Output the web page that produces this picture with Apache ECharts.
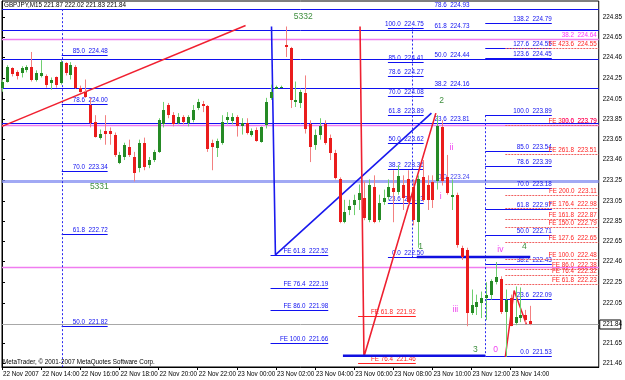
<!DOCTYPE html>
<html><head><meta charset="utf-8">
<script src="https://cdn.jsdelivr.net/npm/echarts@6/dist/echarts.min.js"></script>
<style>html,body{margin:0;padding:0;background:#fff}#c{width:625px;height:380px}</style>
</head><body><div id="c"></div>
<script>
// ---------------- DATA ----------------
const xTickLabels = ['22 Nov 2007','22 Nov 14:00','22 Nov 16:00','22 Nov 18:00','22 Nov 20:00','22 Nov 22:00','23 Nov 00:00','23 Nov 02:00','23 Nov 04:00','23 Nov 06:00','23 Nov 08:00','23 Nov 10:00','23 Nov 12:00','23 Nov 14:00'];
const xTickBars = [0,8,16,24,32,40,48,56,64,72,80,88,96,104];
const yTickLabels = [224.85,224.65,224.46,224.25,224.05,223.85,223.65,223.46,223.25,223.05,222.85,222.65,222.46,222.25,222.05,221.65,221.46];
const lastPrice = 221.84;
const titleText = 'GBPJPY,M15 221.87 222.02 221.83 221.84';
const copyrightText = 'MetaTrader, \u00a9 2001-2007 MetaQuotes Software Corp.';

// [open, close, low, high] per 15-min bar from 22 Nov 12:00
const candles = [
[224.16,224.22,224.12,224.24],[224.22,224.36,224.21,224.38],[224.35,224.29,224.27,224.36],[224.31,224.27,224.24,224.33],
[224.30,224.35,224.26,224.37],[224.33,224.36,224.31,224.38],[224.36,224.24,224.22,224.51],[224.24,224.30,224.22,224.33],
[224.27,224.30,224.26,224.43],[224.27,224.19,224.16,224.29],[224.21,224.24,224.14,224.26],[224.26,224.19,224.16,224.27],
[224.21,224.41,224.19,224.43],[224.40,224.30,224.28,224.41],[224.28,224.38,224.24,224.41],[224.36,224.16,224.15,224.38],
[224.16,224.12,224.11,224.18],[224.12,224.07,224.06,224.24],[223.99,223.81,223.77,224.06],[223.82,223.68,223.67,223.89],
[223.67,223.71,223.65,223.75],[223.73,223.71,223.60,223.89],[223.73,223.71,223.60,223.77],[223.70,223.50,223.48,223.72],
[223.42,223.50,223.41,223.53],[223.48,223.60,223.45,223.62],[223.58,223.50,223.48,223.65],[223.48,223.32,223.24,223.53],
[223.37,223.62,223.33,223.65],[223.62,223.38,223.35,223.67],[223.40,223.45,223.37,223.48],[223.45,223.53,223.43,223.55],
[223.53,223.84,223.52,223.86],[223.80,223.94,223.77,224.02],[223.99,223.89,223.86,224.01],[223.89,223.80,223.78,223.92],
[223.81,223.87,223.80,223.91],[223.87,223.82,223.80,223.89],[223.81,223.87,223.78,223.89],[223.84,223.94,223.82,223.99],
[223.96,224.02,223.94,224.05],[224.00,223.98,223.92,224.03],[223.98,223.56,223.53,223.99],[223.62,223.58,223.35,223.65],
[223.57,223.64,223.48,223.66],[223.62,223.82,223.60,223.89],[223.84,223.87,223.80,223.92],[223.83,223.87,223.80,223.91],
[223.87,223.78,223.68,223.89],[223.78,223.81,223.70,223.86],[223.81,223.72,223.70,223.86],[223.70,223.73,223.68,223.76],
[223.74,223.64,223.63,223.77],[223.63,223.77,223.62,223.78],[223.79,224.02,223.76,224.06],[224.06,224.12,224.04,224.19],
[224.15,224.17,224.15,224.18],[224.17,224.17,224.16,224.18],[224.58,224.56,224.46,224.76],[224.55,224.04,223.96,224.56],
[224.02,224.04,223.97,224.22],[224.01,224.12,223.96,224.14],[224.11,223.75,223.71,224.28],[223.80,223.58,223.43,223.84],
[223.60,223.70,223.55,223.75],[223.70,223.78,223.65,223.86],[223.80,223.62,223.60,223.84],[223.67,223.52,223.45,223.70],
[223.52,223.27,223.26,223.55],[223.26,222.84,222.83,223.28],[222.84,222.94,222.83,223.06],[222.96,223.00,222.91,223.06],
[223.01,223.06,222.91,223.11],[223.06,223.13,222.96,223.21],[223.08,222.88,222.86,223.24],[222.86,223.21,222.84,223.26],
[223.19,222.84,222.83,223.30],[222.86,223.03,222.84,223.11],[223.04,223.08,223.01,223.16],[223.09,223.19,223.06,223.26],
[223.18,223.14,222.84,223.35],[223.14,223.29,223.11,223.40],[223.21,223.08,222.96,223.30],[223.26,223.04,223.01,223.35],
[223.19,222.86,222.81,223.26],[222.84,223.26,222.59,223.30],[223.28,223.06,223.04,223.45],[223.21,223.06,222.96,223.30],
[223.23,223.06,222.98,223.30],[223.24,223.78,223.16,223.89],[223.77,223.24,223.20,223.84],[223.28,223.13,223.11,223.50],
[223.09,223.11,222.96,223.26],[223.11,222.62,222.59,223.13],[222.59,222.50,222.47,222.61],[222.57,221.95,221.82,222.59],
[221.95,222.03,221.93,222.18],[222.01,222.06,221.93,222.13],[222.05,222.10,221.90,222.16],[222.10,222.13,221.88,222.25],
[222.13,222.26,222.08,222.28],[222.25,222.30,222.23,222.45],[222.28,221.96,221.94,222.31],[221.96,222.08,221.52,222.18],
[222.10,221.82,221.82,222.13],[221.85,221.91,221.83,222.21],[221.90,221.93,221.86,222.20],[221.93,221.88,221.85,221.98],
[221.87,221.84,221.83,222.02]
];

// Fibonacci / expansion levels: [text, price]
const fibLeftLevels = [['85.0  224.48',224.48],['78.6  224.00',224.00],['70.0  223.34',223.34],['61.8  222.72',222.72],['50.0  221.82',221.82]];
const fibMidLevels = [['100.0  224.75',224.75],['85.0  224.41',224.41],['78.6  224.27',224.27],['70.0  224.08',224.08],['61.8  223.89',223.89],['50.0  223.62',223.62],['38.2  223.36',223.36],['23.6  223.03',223.03],['0.0  222.50',222.50]];
const fibRayLevels = [['78.6  224.93',224.93],['61.8  224.73',224.73],['50.0  224.44',224.44],['38.2  224.16',224.16],['23.6  223.81',223.81]];
const fibRayBase = [['0.0  223.24',223.24]];
const fibRightLevels = [['138.2  224.79',224.79],['127.6  224.55',224.55],['123.6  224.45',224.45],['100.0  223.89',223.89],['85.0  223.54',223.54],['78.6  223.39',223.39],['70.0  223.18',223.18],['61.8  222.97',222.97],['50.0  222.71',222.71],['38.2  222.43',222.43],['23.6  222.09',222.09],['0.0  221.53',221.53]];
const feRightLevels = [['FE 423.6  224.55',224.55],['FE 300.0  223.79',223.79],['FE 261.8  223.51',223.51],['FE 200.0  223.11',223.11],['FE 176.4  222.98',222.98],['FE 161.8  222.87',222.87],['FE 150.0  222.79',222.79],['FE 127.6  222.65',222.65],['FE 100.0  222.48',222.48],['FE 86.0  222.38',222.38],['FE 76.4  222.32',222.32],['FE 61.8  222.23',222.23]];
const feMidLevels = [['FE 61.8  221.92',221.92],['FE 76.4  221.46',221.46]];
const feBlueLevels = [['FE 61.8  222.52',222.52],['FE 76.4  222.19',222.19],['FE 86.0  221.98',221.98],['FE 100.0  221.66',221.66]];
const pinkLevels = [['38.2  224.64',224.64],['23.6  223.79',223.79],['',222.40]];

// Trend lines: [barIndex, price]
const redTrend = [[0,223.78],[49.8,224.77]];
const blueWave = [[55.1,224.76],[55.9,222.52],[87.8,223.91]];
const redWave = [[73.2,224.76],[74.0,221.52],[88.7,223.91]];
const redZig = [[102.9,221.52],[104.7,222.17],[107.2,221.84]];
const thickBlue = [[69.7,98.8,221.53],[84.8,108.0,222.50]];
const dottedVerticals = [[12.2,224.93,221.42],[83.8,224.75,222.50],[98.8,223.89,221.53]];

// Wave labels: [text, barIndex, price, kind]
const waveLabels = [['5332',61.6,224.86,'g'],['5331',19.9,223.19,'g'],['2',89.9,224.03,'g'],['ii',91.9,223.57,'m'],['i',89.7,223.09,'m'],['1',85.6,222.60,'g'],['iii',92.7,221.98,'m'],['iv',101.9,222.57,'m'],['4',106.8,222.60,'g'],['3',96.8,221.59,'g'],['0',100.9,221.59,'m']];

// ---------------- CHART ----------------
const FONT = 'Liberation Sans';
const BLUE = '#1010f0', RED = '#ff2020', MAG = '#ff30ff';
const chart = echarts.init(document.getElementById('c'));

function segSeries(levels, x1, x2, lineColor, textColor, dash, width, labelX, z) {
  return {
    type: 'custom', silent: true, z: z || 3,
    encode: {x: [0, 1], y: 2},
    data: levels.map(l => [x1, x2, l[1]]),
    renderItem: (params, api) => {
      const lv = levels[params.dataIndex];
      const a = api.coord([api.value(0), api.value(2)]);
      const b = api.coord([api.value(1), api.value(2)]);
      const y = Math.round(a[1]) + 0.5;
      const ch = [{type: 'line', shape: {x1: a[0], y1: y, x2: b[0], y2: y}, style: {stroke: lineColor, lineWidth: width, lineDash: dash}}];
      if (lv[0]) {
        const tx = labelX != null ? api.coord([labelX, 0])[0] : b[0];
        ch.push({type: 'text', x: tx, y: y - 1, style: {text: lv[0], fill: textColor, fontSize: 6.3, fontFamily: FONT, align: 'right', verticalAlign: 'bottom'}});
      }
      return {type: 'group', children: ch};
    }
  };
}

function lineSeries(data, color, width, z) {
  return {type: 'line', data: data, symbol: 'none', silent: true, z: z || 4, lineStyle: {color: color, width: width}};
}

const series = [];
// full width base lines
series.push(segSeries([['', lastPrice]], 0, 122, '#a8a8a8', '#000', null, 1, null, 1));
series.push(segSeries(fibRayBase, 0, 122, 'rgba(130,140,240,0.75)', '#4040f0', null, 3, 95.6, 1));
series.push(segSeries(fibRayLevels, 0, 122, BLUE, BLUE, null, 1, 95.6, 2));
series.push(segSeries(pinkLevels, 0, 122, '#f07cf0', MAG, null, 1.5, 121.6, 2));
// fib groups
series.push(segSeries(fibLeftLevels, 12.2, 21.6, BLUE, BLUE, null, 1));
series.push(segSeries(fibMidLevels, 78.9, 86.2, BLUE, BLUE, null, 1));
series.push(segSeries(fibRightLevels, 98.8, 112.4, BLUE, BLUE, null, 1));
series.push(segSeries(feRightLevels, 102.9, 122, '#f06060', RED, [2, 1], 1, 121.6));
series.push(segSeries(feMidLevels, 72.8, 84.6, RED, RED, null, 1));
series.push(segSeries(feBlueLevels, 54.9, 66.7, BLUE, BLUE, null, 1));

// candles
series.push({
  type: 'custom', silent: true, z: 6,
  encode: {x: 0, y: [1, 2, 3, 4]},
  data: candles.map((c, i) => [i, c[0], c[1], c[2], c[3]]),
  renderItem: (params, api) => {
    const x = api.value(0), o = api.value(1), c = api.value(2), l = api.value(3), h = api.value(4);
    const po = api.coord([x, o]), pc = api.coord([x, c]), pl = api.coord([x, l]), ph = api.coord([x, h]);
    const up = c >= o;
    const cx = Math.round(po[0]);
    const top = Math.round(Math.min(po[1], pc[1])), bot = Math.round(Math.max(po[1], pc[1]));
    return {type: 'group', children: [
      {type: 'line', shape: {x1: cx + 0.5, y1: ph[1], x2: cx + 0.5, y2: pl[1]}, style: {stroke: up ? '#6fcf6f' : '#f38080', lineWidth: 1}},
      {type: 'rect', shape: {x: cx - 1, y: top, width: 3, height: Math.max(1, bot - top)}, style: {fill: up ? '#258a25' : '#ea1c1c'}}
    ]};
  }
});

// trend lines
series.push(lineSeries(redTrend, '#f02030', 1.5));
series.push(lineSeries(blueWave, '#1a1aee', 1.6));
series.push(lineSeries(redWave, '#ee2030', 1.6));
series.push(lineSeries(redZig, '#ee2030', 1.5));

// thick blue horizontals
series.push({
  type: 'custom', silent: true, z: 5, encode: {x: [0, 1], y: 2},
  data: thickBlue,
  renderItem: (params, api) => {
    const a = api.coord([api.value(0), api.value(2)]), b = api.coord([api.value(1), api.value(2)]);
    return {type: 'line', shape: {x1: a[0], y1: a[1], x2: b[0], y2: a[1]}, style: {stroke: '#1010e0', lineWidth: 2.5}};
  }
});
// dotted verticals
series.push({
  type: 'custom', silent: true, z: 3, encode: {x: 0, y: [1, 2]},
  data: dottedVerticals,
  renderItem: (params, api) => {
    const a = api.coord([api.value(0), api.value(1)]), b = api.coord([api.value(0), api.value(2)]);
    const x = Math.round(a[0]) + 0.5;
    return {type: 'line', shape: {x1: x, y1: a[1], x2: x, y2: b[1]}, style: {stroke: '#2a2af0', lineWidth: 1, lineDash: [2, 2]}};
  }
});
// wave labels
series.push({
  type: 'custom', silent: true, z: 8, encode: {x: 1, y: 2},
  data: waveLabels.map(w => [w[0], w[1], w[2]]),
  renderItem: (params, api) => {
    const w = waveLabels[params.dataIndex];
    const p = api.coord([w[1], w[2]]);
    return {type: 'text', x: p[0], y: p[1], style: {text: w[0], fill: w[3] === 'g' ? '#3f8f3f' : '#f040f0', fontSize: 8.5, fontFamily: FONT, align: 'center', verticalAlign: 'middle'}};
  }
});
// current price tag
series.push({
  type: 'custom', silent: true, z: 9, clip: false, encode: {x: 0, y: 1},
  data: [[122, lastPrice]],
  renderItem: (params, api) => {
    const p = api.coord([api.value(0), api.value(1)]);
    return {type: 'group', children: [
      {type: 'rect', shape: {x: p[0] + 1, y: Math.round(p[1]) - 4, width: 21, height: 9}, style: {fill: '#fff', stroke: '#000', lineWidth: 1}},
      {type: 'text', x: p[0] + 4, y: Math.round(p[1]) + 0.5, style: {text: lastPrice.toFixed(2), fill: '#000', fontSize: 6.3, fontFamily: FONT, align: 'left', verticalAlign: 'middle'}}
    ]};
  }
});

chart.setOption({
  animation: false,
  backgroundColor: '#fff',
  grid: {left: 2, right: 22, top: 1, bottom: 13, show: true, borderColor: '#000', borderWidth: 1},
  xAxis: {
    type: 'value', min: 0, max: 122,
    axisLine: {show: true, lineStyle: {color: '#000'}},
    splitLine: {show: false},
    axisTick: {show: true, customValues: xTickBars, length: 3, lineStyle: {color: '#000'}},
    axisLabel: {customValues: xTickBars, formatter: v => xTickLabels[xTickBars.indexOf(v)], align: 'left', margin: 4, color: '#000', fontSize: 6.3, fontFamily: FONT, padding: [0, 0, 0, 1]}
  },
  yAxis: {
    type: 'value', position: 'right', min: 221.42, max: 225.01, scale: true,
    axisLine: {show: true, lineStyle: {color: '#000'}},
    splitLine: {show: false},
    axisTick: {show: true, customValues: yTickLabels, length: 3, lineStyle: {color: '#000'}},
    axisLabel: {customValues: yTickLabels, formatter: v => v.toFixed(2), margin: 4, color: '#000', fontSize: 6.3, fontFamily: FONT}
  },
  graphic: [
    {type: 'text', left: 4, top: 2, z: 100, style: {text: titleText, fill: '#000', fontSize: 6.3, fontFamily: FONT}},
    {type: 'text', left: 3, top: 359, z: 100, style: {text: copyrightText, fill: '#000', fontSize: 6.3, fontFamily: FONT}}
  ],
  series: series
});
</script></body></html>
